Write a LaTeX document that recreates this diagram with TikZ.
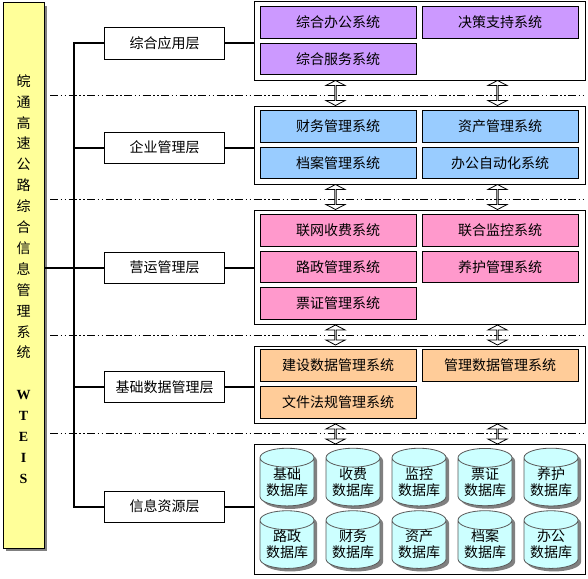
\documentclass[tikz,border=0pt]{standalone}
\usepackage{fontspec}
\setmainfont{Noto Sans CJK SC}
\newfontfamily\titlelatin{Liberation Serif}
\definecolor{wtyellow}{RGB}{255,255,153}
\definecolor{wtpurple}{RGB}{204,153,255}
\definecolor{wtblue}{RGB}{153,204,255}
\definecolor{wtpink}{RGB}{255,153,204}
\definecolor{wtorange}{RGB}{255,204,153}
\definecolor{wtcyan}{RGB}{204,255,255}
\definecolor{wtgray}{RGB}{128,128,128}
\usetikzlibrary{positioning,shapes.geometric,shapes.arrows,shadows}

\begin{document}
\begin{tikzpicture}[x=1pt, y=-1pt,
  barbox/.style={draw, line width=1pt, fill=wtyellow, minimum width=41pt, minimum height=545pt, inner sep=0pt, drop shadow={shadow xshift=3pt, shadow yshift=-3pt, fill=wtgray, opacity=1}},
  bartext/.style={align=center, font=\fontsize{14}{20.9}\selectfont, inner sep=0pt},
  layerbox/.style={draw, line width=1pt, fill=white, minimum width=120pt, minimum height=31pt, inner sep=0pt, font=\fontsize{14}{16}\selectfont},
  groupbox/.style={draw, line width=1pt, fill=white, minimum width=331pt, inner sep=0pt},
  sysbox/.style={draw, line width=1pt, minimum width=156pt, minimum height=31.5pt, inner sep=0pt, font=\fontsize{14}{16}\selectfont},
  dbcyl/.style={cylinder, shape border rotate=90, aspect=0.45, draw=wtgray!70!black, line width=0.8pt, fill=wtcyan, minimum width=54pt, minimum height=52pt, inner sep=0pt, align=center, font=\fontsize{14}{16}\selectfont, execute at begin node={\rule{0pt}{22pt}}, drop shadow={shadow xshift=3pt, shadow yshift=-3pt, fill=wtgray, opacity=1}},
  dblarrow/.style={double arrow, draw, line width=0.8pt, fill=white, rotate=90, minimum width=19pt, inner sep=0pt, double arrow head extend=5pt, double arrow tip angle=125},
  bus/.style={line width=2pt},
  sepline/.style={line width=1pt, dash pattern=on 8pt off 2.5pt on 1.5pt off 2.5pt on 1.5pt off 2.5pt}
]
  %% Outer frame of the picture
  \path[use as bounding box] (0,0) rectangle (588,578);

  %% Left title bar
  \node[barbox] (titlebar) at (23.5,275.5) {};
  \node[bartext] (titletext) at (23.5,279) {皖\\通\\高\\速\\公\\路\\综\\合\\信\\息\\管\\理\\系\\统\\ \\[0pt]{\titlelatin\bfseries W}\\{\titlelatin\bfseries T}\\{\titlelatin\bfseries E}\\{\titlelatin\bfseries I}\\{\titlelatin\bfseries S}};

  %% Separators
  \draw[sepline] (50,95.5) -- (585,95.5);
  \draw[sepline] (50,199.5) -- (585,199.5);
  \draw[sepline] (50,335.5) -- (585,335.5);
  \draw[sepline] (50,433.5) -- (585,433.5);

  %% Layer boxes
  \node[layerbox] (applayer) at (164.5,43.5) {综合应用层};
  \node[layerbox] (entlayer) at (164.5,147.5) {企业管理层};
  \node[layerbox] (opslayer) at (164.5,267.5) {营运管理层};
  \node[layerbox] (baselayer) at (164.5,387) {基础数据管理层};
  \node[layerbox] (reslayer) at (164.5,506.5) {信息资源层};

  %% Group frames
  \node[groupbox, minimum height=78pt] (appgroup) at (419.5,41) {};
  \node[groupbox, minimum height=78pt] (entgroup) at (419.5,145) {};
  \node[groupbox, minimum height=114pt] (opsgroup) at (419.5,267) {};
  \node[groupbox, minimum height=77pt] (basegroup) at (419.5,384.5) {};
  \node[groupbox, minimum height=130pt] (resgroup) at (419.5,509) {};

  %% Trunk and branches
  \coordinate (trunktop) at (74,43.5);
  \draw[bus] (applayer.west) -- (trunktop) |- (reslayer.west);
  \draw[bus] (entlayer.west) -- (entlayer.west -| trunktop);
  \draw[bus] (baselayer.west) -- (baselayer.west -| trunktop);
  \draw[bus] (opslayer.west -| titlebar.east) -- (opslayer.west);
  \draw[bus] (applayer.east) -- (applayer.east -| appgroup.west);
  \draw[bus] (entlayer.east) -- (entlayer.east -| entgroup.west);
  \draw[bus] (opslayer.east) -- (opslayer.east -| opsgroup.west);
  \draw[bus] (baselayer.east) -- (baselayer.east -| basegroup.west);
  \draw[bus] (reslayer.east) -- (reslayer.east -| resgroup.west);

  %% Row: applications
  \node[sysbox, fill=wtpurple] (oasys) at (338,22.5) {综合办公系统};
  \node[sysbox, fill=wtpurple] (decsys) at (500,22.5) {决策支持系统};
  \node[sysbox, fill=wtpurple] (srvsys) at (338,59) {综合服务系统};

  %% Row: enterprise
  \node[sysbox, fill=wtblue] (finsys) at (338,126.5) {财务管理系统};
  \node[sysbox, fill=wtblue] (asssys) at (500,126.5) {资产管理系统};
  \node[sysbox, fill=wtblue] (arcsys) at (338,163) {档案管理系统};
  \node[sysbox, fill=wtblue] (autosys) at (500,163) {办公自动化系统};

  %% Row: operations
  \node[sysbox, fill=wtpink] (tollsys) at (338,230.5) {联网收费系统};
  \node[sysbox, fill=wtpink] (monsys) at (500,230.5) {联合监控系统};
  \node[sysbox, fill=wtpink] (roadsys) at (338,267) {路政管理系统};
  \node[sysbox, fill=wtpink] (mntsys) at (500,267) {养护管理系统};
  \node[sysbox, fill=wtpink] (ticksys) at (338,303.5) {票证管理系统};

  %% Row: base data
  \node[sysbox, fill=wtorange] (consys) at (338,365.5) {建设数据管理系统};
  \node[sysbox, fill=wtorange] (mgtsys) at (500,365.5) {管理数据管理系统};
  \node[sysbox, fill=wtorange] (lawsys) at (338,402.5) {文件法规管理系统};

  %% Row: databases
  \node[dbcyl] (db1) at (287,482) {基础\\数据库};
  \node[dbcyl] (db2) at (353,482) {收费\\数据库};
  \node[dbcyl] (db3) at (419,482) {监控\\数据库};
  \node[dbcyl] (db4) at (485,482) {票证\\数据库};
  \node[dbcyl] (db5) at (551,482) {养护\\数据库};
  \node[dbcyl] (db6) at (287,544.5) {路政\\数据库};
  \node[dbcyl] (db7) at (353,544.5) {财务\\数据库};
  \node[dbcyl] (db8) at (419,544.5) {资产\\数据库};
  \node[dbcyl] (db9) at (485,544.5) {档案\\数据库};
  \node[dbcyl] (db10) at (551,544.5) {办公\\数据库};

  %% Double arrows between groups
  \node[dblarrow, minimum height=25pt] (arra1) at (335.5,93) {};
  \node[dblarrow, minimum height=25pt] (arra2) at (497.5,93) {};
  \node[dblarrow, minimum height=25pt] (arrb1) at (335.5,197) {};
  \node[dblarrow, minimum height=25pt] (arrb2) at (497.5,197) {};
  \node[dblarrow, minimum height=20pt] (arrc1) at (335.5,335) {};
  \node[dblarrow, minimum height=20pt] (arrc2) at (497.5,335) {};
  \node[dblarrow, minimum height=20pt] (arrd1) at (335.5,434) {};
  \node[dblarrow, minimum height=20pt] (arrd2) at (497.5,434) {};
\end{tikzpicture}
\end{document}
